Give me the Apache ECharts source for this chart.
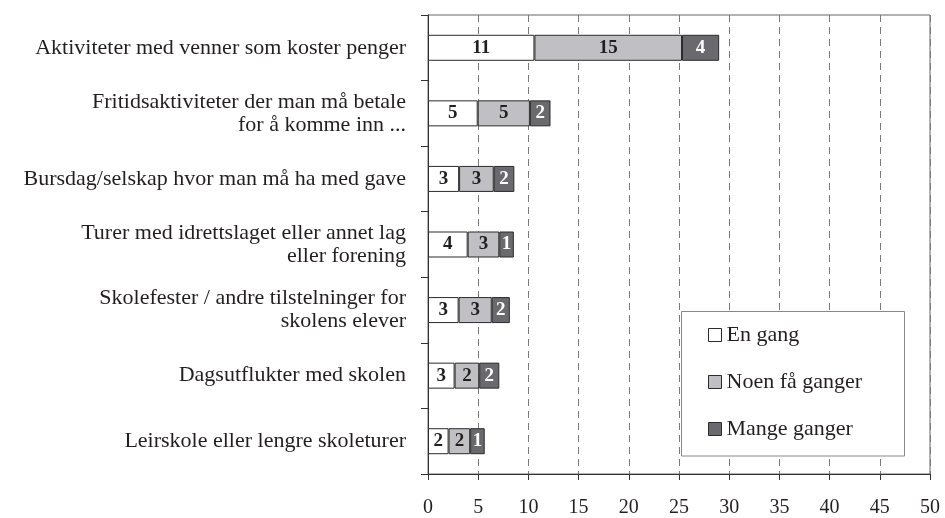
<!DOCTYPE html>
<html>
<head>
<meta charset="utf-8">
<script src="https://cdn.jsdelivr.net/npm/echarts@6/dist/echarts.min.js"></script>
<style>
html,body{margin:0;padding:0;background:#fff;}
#chart{width:945px;height:518px;}
</style>
</head>
<body>
<div id="chart"></div>
<script>
var categories = [
  'Aktiviteter med venner som koster penger',
  'Fritidsaktiviteter der man må betale\nfor å komme inn ...',
  'Bursdag/selskap hvor man må ha med gave',
  'Turer med idrettslaget eller annet lag\neller forening',
  'Skolefester / andre tilstelninger for\nskolens elever',
  'Dagsutflukter med skolen',
  'Leirskole eller lengre skoleturer'
];
var seriesNames = ['En gang', 'Noen få ganger', 'Mange ganger'];
var enGang = [10.6, 4.95, 3.1, 3.95, 3.05, 2.65, 2.05];
var noenFaGanger = [14.7, 5.2, 3.45, 3.15, 3.3, 2.45, 2.15];
var mangeGanger = [3.7, 2.05, 2.05, 1.45, 1.8, 2.0, 1.45];
var xTicks = [0, 5, 10, 15, 20, 25, 30, 35, 40, 45, 50];

var FONT = 'Liberation Serif';
var colors = ['#ffffff', '#c0c0c4', '#6a6a6e'];
var labelColors = ['#231f20', '#231f20', '#ffffff'];
var values = [enGang, noenFaGanger, mangeGanger];

var chart = echarts.init(document.getElementById('chart'), null, {renderer: 'canvas'});

var series = seriesNames.map(function (name, i) {
  return {
    name: name,
    type: 'bar',
    stack: 'total',
    barWidth: 26,
    data: values[i],
    itemStyle: {color: colors[i], borderColor: '#2b2b2b', borderWidth: 1},
    label: {
      show: true,
      position: 'inside',
      formatter: function (p) { return String(Math.round(p.value)); },
      fontFamily: FONT,
      fontWeight: 'bold',
      fontSize: 19,
      color: labelColors[i]
    },
    emphasis: {disabled: true},
    animation: false
  };
});

chart.setOption({
  backgroundColor: '#ffffff',
  animation: false,
  grid: {
    left: 428, right: 15, top: 15, bottom: 40,
    show: true, borderColor: '#666666', borderWidth: 1, backgroundColor: 'transparent'
  },
  xAxis: {
    type: 'value',
    min: xTicks[0],
    max: xTicks[xTicks.length - 1],
    interval: xTicks[1] - xTicks[0],
    axisLine: {show: true, lineStyle: {color: '#333333', width: 1}},
    axisTick: {show: true, inside: false, length: 6, lineStyle: {color: '#333333'}},
    axisLabel: {fontFamily: FONT, fontSize: 20, color: '#231f20', margin: 24},
    splitLine: {show: true, lineStyle: {color: '#7a7a7a', type: [7, 5], width: 1}}
  },
  yAxis: {
    type: 'category',
    inverse: true,
    data: categories,
    axisLine: {show: true, lineStyle: {color: '#333333', width: 1}},
    axisTick: {show: true, inside: false, length: 7, lineStyle: {color: '#333333'}},
    axisLabel: {fontFamily: FONT, fontSize: 22, lineHeight: 23, color: '#231f20', margin: 22, align: 'right'},
    splitLine: {show: false}
  },
  legend: {
    orient: 'vertical',
    left: 708,
    top: 324,
    padding: 0,
    itemGap: 25,
    itemWidth: 13,
    itemHeight: 13,
    icon: 'rect',
    selectedMode: false,
    data: seriesNames,
    itemStyle: {borderColor: '#2b2b2b', borderWidth: 1},
    textStyle: {fontFamily: FONT, fontSize: 22, color: '#231f20', lineHeight: 22}
  },
  graphic: [{
    type: 'rect',
    z: 3,
    shape: {x: 681.5, y: 311.5, width: 223, height: 144.5},
    style: {fill: '#ffffff', stroke: '#888888', lineWidth: 1}
  }],
  series: series
});
</script>
</body>
</html>
